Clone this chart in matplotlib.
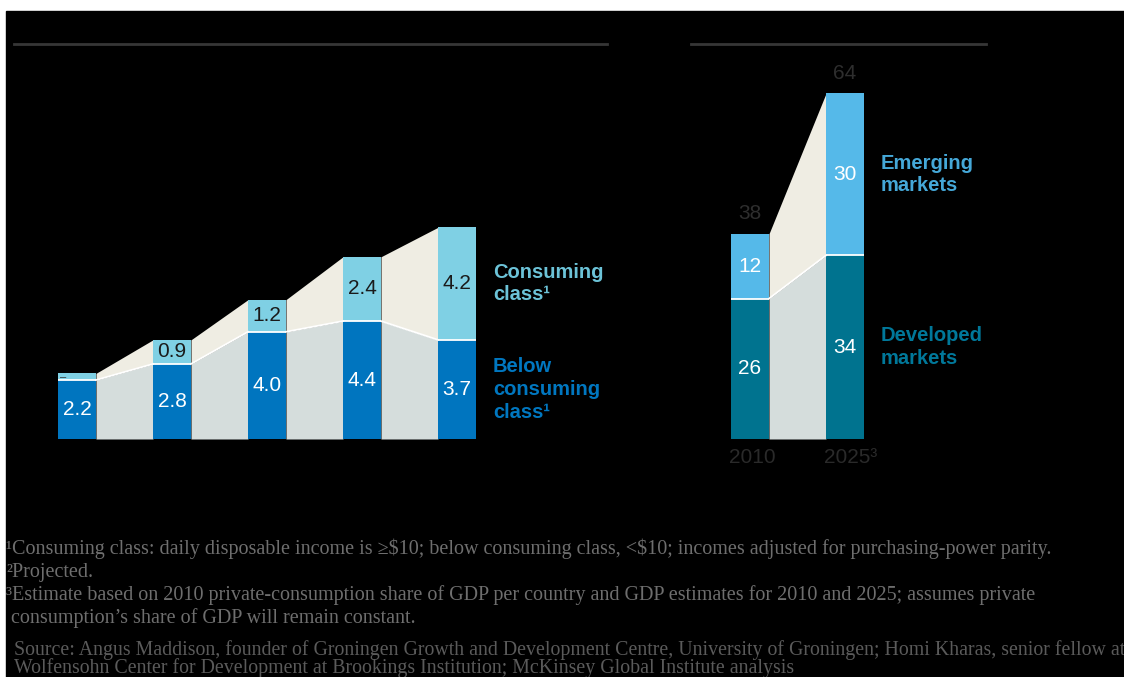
import numpy as np
import matplotlib
matplotlib.use('Agg')
import matplotlib.pyplot as plt
from matplotlib.patches import Rectangle

# ===========================================================================================
# DATA

# Left panel: consuming class vs below consuming class (billions)
left_below = [2.2, 2.8, 4.0, 4.4, 3.7]
left_consuming = [0.25, 0.9, 1.2, 2.4, 4.2]
left_consuming_labels = ['–', '0.9', '1.2', '2.4', '4.2']
left_below_labels = ['2.2', '2.8', '4.0', '4.4', '3.7']

# Right panel: developed vs emerging markets
right_years = ['2010', '2025³']
right_developed = [26, 34]
right_emerging = [12, 30]
right_totals = [38, 64]

footnotes = [
    r'¹Consuming class: daily disposable income is ≥\$10; below consuming class, <\$10; incomes adjusted for purchasing-power parity.',
    '²Projected.',
    '³Estimate based on 2010 private-consumption share of GDP per country and GDP estimates for 2010 and 2025; assumes private',
    ' consumption’s share of GDP will remain constant.',
]
source = ['Source: Angus Maddison, founder of Groningen Growth and Development Centre, University of Groningen; Homi Kharas, senior fellow at',
          'Wolfensohn Center for Development at Brookings Institution; McKinsey Global Institute analysis']

# ===========================================================================================
# STYLE

W, H = 1124, 677
sans = ['Liberation Sans', 'DejaVu Sans']
serif = ['Liberation Serif', 'DejaVu Serif']

blue = '#0075bf'
cyan = '#7fd0e4'
teal = '#00738f'
sky = '#55b9e9'
beige = '#efede3'
grey = '#d5dddc'
bar_w = 0.4

fig = plt.figure(figsize=(W / 100, H / 100), dpi=100)
fig.patch.set_facecolor('white')


def px_axes(x0, y0, x1, y1):
    return fig.add_axes([x0 / W, 1 - y1 / H, (x1 - x0) / W, (y1 - y0) / H])


# Background in pixel coordinates
bg = fig.add_axes([0, 0, 1, 1])
bg.set_xlim(0, W)
bg.set_ylim(H, 0)
bg.axis('off')
bg.add_patch(Rectangle((6, 11), W, H, color='black', zorder=0))
bg.plot([14, 607], [44, 44], color='#363636', lw=2)
bg.plot([691, 986], [44, 44], color='#363636', lw=2)

for i, line in enumerate(footnotes):
    bg.text(6, 549 + i * 23, line, family=serif, fontsize=14.5, color='#6e6e6e', va='center', ha='left')
for i, line in enumerate(source):
    bg.text(14, 650 + i * 18, line, family=serif, fontsize=14.3, color='#5a5a5a', va='center', ha='left')


def stacked_panel(ax, lower, upper, c_low, c_up):
    n = len(lower)
    x = np.arange(n)
    totals = [a + b for a, b in zip(lower, upper)]
    for i in range(n - 1):
        xs = [i + bar_w / 2, i + 1 - bar_w / 2]
        ax.fill_between(xs, [0, 0], [lower[i], lower[i + 1]], color=grey, lw=0)
        ax.fill_between(xs, [lower[i], lower[i + 1]], [totals[i], totals[i + 1]], color=beige, lw=0)
        ax.plot(xs, [lower[i], lower[i + 1]], color='white', lw=1.3)
    ax.bar(x, lower, width=bar_w, color=c_low, lw=0)
    ax.bar(x, upper, bottom=lower, width=bar_w, color=c_up, lw=0)
    ax.hlines(lower, x - bar_w / 2, x + bar_w / 2, color='white', lw=1.3)
    ax.axis('off')
    return x, totals


# Left panel
axl = px_axes(20, 60, 660, 439)
xl, tl = stacked_panel(axl, left_below, left_consuming, blue, cyan)
axl.set_xlim((20 - 77) / 95, (660 - 77) / 95)
axl.set_ylim(0, 379 / 26.8)
for i in range(len(xl)):
    axl.text(xl[i], left_below[i] / 2, left_below_labels[i], family=sans, fontsize=15,
             color='white', ha='center', va='center')
    if i == 0:
        axl.text(xl[i] - bar_w / 2 + 0.02, left_below[i] + left_consuming[i] / 2, left_consuming_labels[i],
                 family=sans, fontsize=8, color='#333333', ha='left', va='center')
    else:
        axl.text(xl[i], left_below[i] + left_consuming[i] / 2, left_consuming_labels[i], family=sans,
                 fontsize=15, color='#1a1a1a', ha='center', va='center')
last = len(xl) - 1
axl.text(last + bar_w / 2 + 0.18, left_below[last] + left_consuming[last] / 2, 'Consuming\nclass¹',
         family=sans, fontsize=14.5, weight='bold', color='#6cc3d8', ha='left', va='center', linespacing=1.25)
axl.text(last + bar_w / 2 + 0.18, left_below[last] / 2, 'Below\nconsuming\nclass¹',
         family=sans, fontsize=14.5, weight='bold', color='#0077c0', ha='left', va='center', linespacing=1.25)

# Right panel
axr = px_axes(700, 60, 1100, 439)
xr, tr = stacked_panel(axr, right_developed, right_emerging, teal, sky)
axr.set_xlim((700 - 750) / 95, (1100 - 750) / 95)
axr.set_ylim(0, 379 / 5.4)
for i in range(len(xr)):
    axr.text(xr[i], right_developed[i] / 2, str(right_developed[i]), family=sans, fontsize=15,
             color='white', ha='center', va='center')
    axr.text(xr[i], right_developed[i] + right_emerging[i] / 2, str(right_emerging[i]), family=sans,
             fontsize=15, color='white', ha='center', va='center')
    axr.text(xr[i], right_totals[i] + 2.0, str(right_totals[i]), family=sans, fontsize=15,
             color='#2e2e2e', ha='center', va='bottom')
    axr.text(xr[i] - 0.22, -1.6, right_years[i], family=sans, fontsize=15,
             color='#2a2a2a', ha='left', va='top')
last = len(xr) - 1
axr.text(last + bar_w / 2 + 0.18, right_developed[last] + right_emerging[last] / 2, 'Emerging\nmarkets',
         family=sans, fontsize=14.5, weight='bold', color='#45a8d8', ha='left', va='center', linespacing=1.25)
axr.text(last + bar_w / 2 + 0.18, right_developed[last] / 2, 'Developed\nmarkets',
         family=sans, fontsize=14.5, weight='bold', color='#00789a', ha='left', va='center', linespacing=1.25)

fig.savefig('out.png', dpi=100, facecolor=fig.get_facecolor())
